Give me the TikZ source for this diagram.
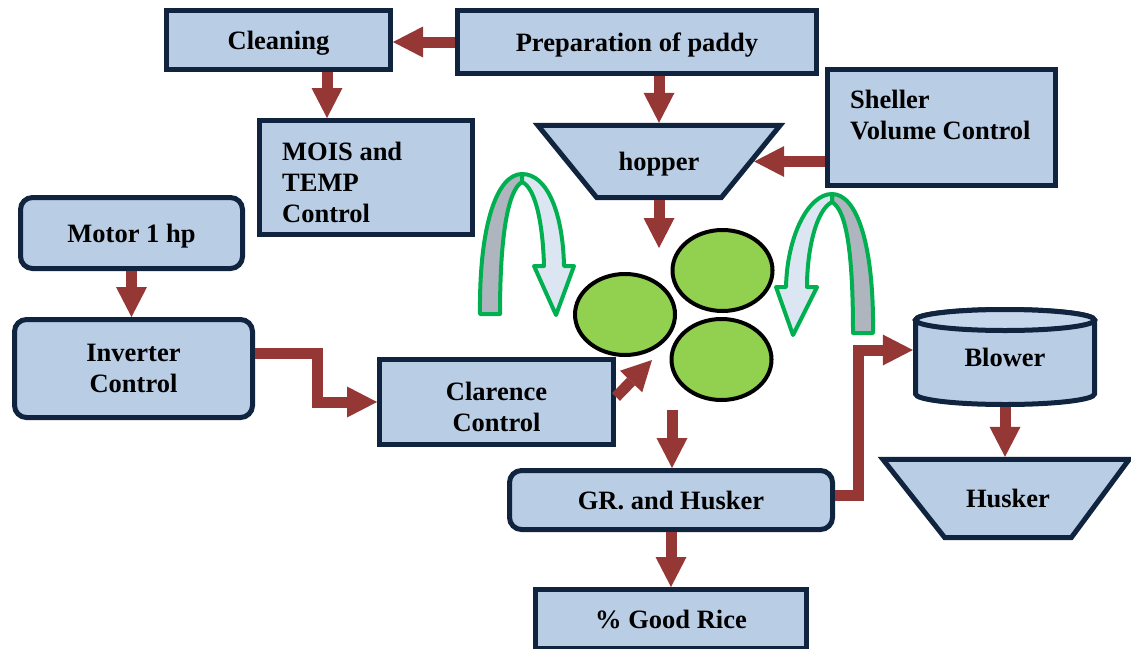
\documentclass[tikz,border=0pt]{standalone}
\usepackage{fontspec}
\setmainfont{Liberation Serif}
\usetikzlibrary{arrows.meta,shapes.geometric}
\definecolor{boxfill}{HTML}{B9CDE5}
\definecolor{boxline}{HTML}{10243F}
\definecolor{arr}{HTML}{953735}
\definecolor{roll}{HTML}{92D050}
\definecolor{grn}{HTML}{00B050}
\definecolor{bandgray}{HTML}{AEB5BE}
\definecolor{bandlight}{HTML}{DCE6F2}
\definecolor{toplight}{HTML}{C6D7EB}
\begin{document}
\begin{tikzpicture}[x=1pt,y=-1pt,
  lbl/.style={font=\fontsize{26.5}{31}\selectfont\bfseries, inner sep=0pt},
  one/.style={text height=18pt, text depth=0pt},
  box/.style={lbl, draw=boxline, fill=boxfill, line width=5pt, align=center},
  rbox/.style={box, rounded corners=12pt},
  outline/.style={draw=boxline, fill=boxfill, line width=5pt, line join=miter},
  roller/.style={ellipse, draw=black, fill=roll, line width=4pt, minimum width=100pt, minimum height=81pt, inner sep=0pt},
  flow/.style={draw=arr, line width=11pt, line join=miter, -{Triangle[width=31pt,length=30pt,line width=0pt]}},
  band/.style={draw=grn, line width=4pt, line join=round},
]
\useasboundingbox (0,0) rectangle (1131,648);

% boxes
\node[box, one, minimum width=224pt, minimum height=59pt] (clean) at (278.5,40) {Cleaning};
\node[box, one, minimum width=359pt, minimum height=63pt] (prep) at (637,42) {Preparation of paddy};
\node[box, minimum width=213pt, minimum height=114pt] (mois) at (366,177.5) {};
\node[lbl, align=left, anchor=north west] (moist) at (282,142) {MOIS and\\TEMP\\Control};
% hopper (trapezoid)
\node[inner sep=0pt, minimum width=242pt, minimum height=72pt] (hop) at (659,161.5) {};
\draw[outline] (hop.north west) -- (hop.north east) -- ([xshift=-59pt]hop.south east)
  -- ([xshift=59pt]hop.south west) -- cycle;
\node[lbl, one] (hopt) at (hop) {hopper};
\node[box, minimum width=228pt, minimum height=116pt] (shel) at (941.5,127.5) {};
\node[lbl, align=left, anchor=north west] (shelt) at (850,90) {Sheller\\Volume Control};
\node[rbox, one, minimum width=222pt, minimum height=71pt] (motor) at (131.5,233) {Motor 1 hp};
\node[rbox, minimum width=238pt, minimum height=98pt] (inv) at (133.5,368.5) {Inverter\\Control};
\node[box, minimum width=234pt, minimum height=85pt] (clar) at (496.5,402) {\rule{0pt}{28pt}Clarence\\Control};
\node[rbox, one, minimum width=323pt, minimum height=59pt] (gr) at (671,500) {GR. and Husker};
\node[box, one, minimum width=271pt, minimum height=59pt] (good) at (671,619) {\% Good Rice};

% blower cylinder
\draw[boxline, line width=5pt, fill=boxfill] (915.5,320) -- (915.5,394)
  arc[start angle=180, end angle=360, x radius=89.5pt, y radius=10.5pt] -- (1094.5,320)
  arc[start angle=0, end angle=180, x radius=89.5pt, y radius=10.5pt] -- cycle;
\draw[boxline, line width=5pt, fill=toplight] (1005,320) ellipse [x radius=89.5pt, y radius=10.5pt];
\node[lbl, one, minimum width=184pt, minimum height=100pt] (blow) at (1005,357) {Blower};
% husker (trapezoid)
\node[inner sep=0pt, minimum width=246pt, minimum height=78pt] (husk) at (1006,498.5) {};
\draw[outline] (husk.north west) -- (husk.north east) -- ([xshift=-58pt]husk.south east)
  -- ([xshift=62pt]husk.south west) -- cycle;
\node[lbl, one] (huskt) at (1008,498.5) {Husker};

% curved arrows
\draw[band, fill=bandgray] (480,314) .. controls (479,225) and (497,174) .. (522,174)
  -- (522,182) .. controls (508,190) and (500,235) .. (500,314) -- cycle;
\draw[band, fill=bandlight] (522,174) .. controls (548,174) and (563,215) .. (564,266)
  -- (574,266) -- (556,315) -- (534,266) -- (544,266)
  .. controls (543,226) and (536,188) .. (522,182) -- cycle;
\draw[band, fill=bandgray] (873,333) .. controls (874,245) and (857,194) .. (832,194)
  -- (832,202) .. controls (846,210) and (853,250) .. (853,333) -- cycle;
\draw[band, fill=bandlight] (832,194) .. controls (808,194) and (787,237) .. (786,287)
  -- (776,287) -- (793,335) -- (817,287) -- (807,287)
  .. controls (807,250) and (816,210) .. (832,202) -- cycle;

% rollers
\node[roller] (r1) at (625,314.5) {};
\node[roller] (r2) at (722.5,270.5) {};
\node[roller] (r3) at (721.5,359.5) {};

% connectors
\coordinate (hopout) at (658,248);
\coordinate (rin) at (652,360);
\coordinate (rout) at (672,410);
\draw[flow] (prep.west) -- (prep.west -| clean.east);
\draw[flow] ([xshift=48.5pt]clean.south) -- ([xshift=48.5pt]clean.south |- mois.north);
\draw[flow] (prep.south -| hop.north) -- ([yshift=2.5pt]hop.north);
\draw[flow] (shel.west |- hop.east) -- ([xshift=-26pt]hop.east);
\draw[flow] ([yshift=-2.5pt]hop.south) -- (hop.south |- hopout);
\draw[flow] (motor.south) -- (motor.south |- inv.north);
\draw[flow] ([yshift=15.5pt]inv.east) -- ++(62,0) |- (clar.west);
\draw[flow] ([yshift=5pt]clar.east) -- (rin);
\draw[flow] (rout) -- (rout |- gr.north);
\draw[flow] (gr.south) -- (gr.south |- good.north);
\draw[flow] ([yshift=5pt]gr.east) -- ++(23.5,0) |- ([yshift=7pt]blow.west);
\draw[flow] (blow.south) -- ([yshift=2.5pt]blow.south |- husk.north);
\end{tikzpicture}
\end{document}
